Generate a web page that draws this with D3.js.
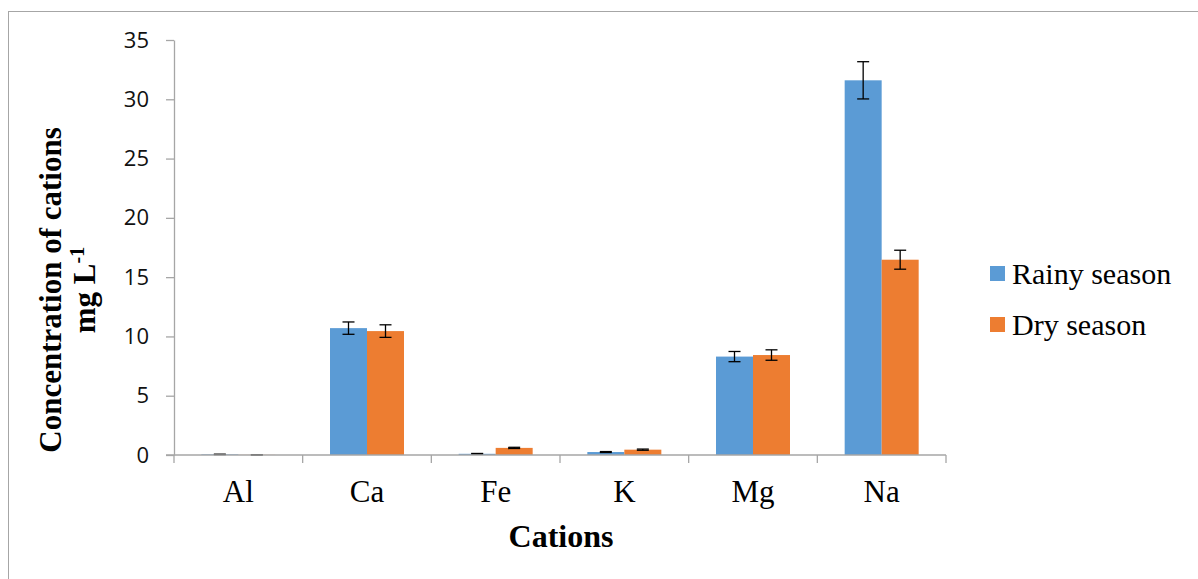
<!DOCTYPE html>
<html>
<head>
<meta charset="utf-8">
<script src="https://cdn.jsdelivr.net/npm/d3@7"></script>
<style>
  body { margin: 0; background: #fff; }
  svg { display: block; }
  .serif { font-family: "Liberation Serif", "Times New Roman", serif; }
</style>
</head>
<body>
<svg id="chart" width="1198" height="579"></svg>
<script>
// ── Data ─────────────────────────────────────────────────────────────────────

const cations = ["Al", "Ca", "Fe", "K", "Mg", "Na"];
const seriesNames = ["Rainy season", "Dry season"];
const rainy = [0.05, 10.7, 0.1, 0.25, 8.3, 31.6];
const rainyErr = [0.02, 0.52, 0.03, 0.04, 0.43, 1.57];
const dry = [0.01, 10.45, 0.6, 0.45, 8.43, 16.47];
const dryErr = [0.005, 0.53, 0.05, 0.05, 0.44, 0.8];
const yTicks = [0, 5, 10, 15, 20, 25, 30, 35];

const colors = ["#5b9bd5", "#ed7d31"];

// ── Layout ───────────────────────────────────────────────────────────────────

const svg = d3.select("#chart");
const plot = { left: 174, right: 946, top: 40, bottom: 455 };

// outer chart border (top + left only visible)
svg.append("rect")
  .attr("x", 8.5).attr("y", 11.5)
  .attr("width", 1300).attr("height", 700)
  .attr("fill", "none").attr("stroke", "#a6a6a6").attr("stroke-width", 1);

const x = d3.scaleBand().domain(cations).range([plot.left, plot.right]);
const y = d3.scaleLinear().domain([0, 35]).range([plot.bottom, plot.top]);

const groupW = 74;
const xs = d3.scaleBand().domain([0, 1]).range([0, groupW]);

// ── Bars ─────────────────────────────────────────────────────────────────────

const rows = cations.map((c, i) => ({
  c,
  vals: [
    { s: 0, v: rainy[i], e: rainyErr[i] },
    { s: 1, v: dry[i], e: dryErr[i] },
  ],
}));

const groups = svg.append("g").selectAll("g")
  .data(rows)
  .join("g")
  .attr("transform", (d) => `translate(${x(d.c) + (x.bandwidth() - groupW) / 2},0)`);

groups.selectAll("rect")
  .data((d) => d.vals)
  .join("rect")
  .attr("x", (d) => xs(d.s))
  .attr("width", xs.bandwidth())
  .attr("y", (d) => y(d.v))
  .attr("height", (d) => y(0) - y(d.v))
  .attr("fill", (d) => colors[d.s]);

// ── Axes ─────────────────────────────────────────────────────────────────────

const axisColor = "#a6a6a6";

// y axis
const yAxis = svg.append("g")
  .attr("transform", `translate(${plot.left},0)`)
  .call(d3.axisLeft(y).tickValues(yTicks).tickSize(8).tickPadding(17).tickSizeOuter(0));
yAxis.attr("font-family", null);
yAxis.select(".domain").attr("stroke", axisColor).attr("stroke-width", 1.3);
yAxis.selectAll(".tick line").attr("stroke", axisColor).attr("stroke-width", 1.3);
yAxis.selectAll(".tick text")
  .style("font-family", "'Open Sans', 'Liberation Sans', sans-serif")
  .style("font-size", "22px")
  .attr("fill", "#111");

// x axis
const xAxis = svg.append("g")
  .attr("transform", `translate(0,${plot.bottom})`)
  .call(d3.axisBottom(x).tickSize(0).tickPadding(25));
xAxis.attr("font-family", null);
xAxis.select(".domain").remove();
xAxis.selectAll(".tick text")
  .attr("class", "serif")
  .style("font-size", "31px")
  .attr("fill", "#000");

svg.append("line")
  .attr("x1", plot.left - 8).attr("x2", plot.right)
  .attr("y1", plot.bottom).attr("y2", plot.bottom)
  .attr("stroke", axisColor).attr("stroke-width", 1.3);

const bounds = cations.map((c) => x(c)).concat([plot.right]);
svg.append("g").selectAll("line")
  .data(bounds)
  .join("line")
  .attr("x1", (d) => d).attr("x2", (d) => d)
  .attr("y1", plot.bottom).attr("y2", plot.bottom + 8)
  .attr("stroke", axisColor).attr("stroke-width", 1.3);

// ── Error bars ───────────────────────────────────────────────────────────────

const eb = groups.selectAll("g.err")
  .data((d) => d.vals)
  .join("g")
  .attr("class", "err")
  .attr("transform", (d) => `translate(${xs(d.s) + xs.bandwidth() / 2},0)`);

eb.append("line")
  .attr("y1", (d) => y(d.v + d.e)).attr("y2", (d) => y(Math.max(0, d.v - d.e)))
  .attr("stroke", "#000").attr("stroke-width", 1.3);
eb.selectAll("line.cap")
  .data((d) => [d.v + d.e, Math.max(0, d.v - d.e)])
  .join("line")
  .attr("class", "cap")
  .attr("x1", -6).attr("x2", 6)
  .attr("y1", (d) => y(d)).attr("y2", (d) => y(d))
  .attr("stroke", "#000").attr("stroke-width", 1.3);

// ── Titles ───────────────────────────────────────────────────────────────────

svg.append("text")
  .attr("class", "serif")
  .attr("x", 561).attr("y", 547)
  .attr("text-anchor", "middle")
  .style("font-weight", "bold")
  .style("font-size", "32px")
  .text("Cations");

const yt = svg.append("text")
  .attr("class", "serif")
  .attr("transform", "translate(61,290) rotate(-90)")
  .attr("text-anchor", "middle")
  .style("font-weight", "bold")
  .style("font-size", "31px");
yt.append("tspan").attr("x", 0).attr("y", 0).text("Concentration of cations");
const l2 = yt.append("tspan").attr("x", 0).attr("y", 34);
l2.append("tspan").text("mg L");
l2.append("tspan").attr("dy", -11).style("font-size", "20px").text("-1");

// ── Legend ───────────────────────────────────────────────────────────────────

const legend = svg.append("g").attr("transform", "translate(990,266)");
const li = legend.selectAll("g")
  .data(seriesNames)
  .join("g")
  .attr("transform", (d, i) => `translate(0,${i * 51})`);
li.append("rect").attr("width", 15).attr("height", 15).attr("fill", (d, i) => colors[i]);
li.append("text")
  .attr("class", "serif")
  .attr("x", 22).attr("y", 18)
  .style("font-size", "30px")
  .text((d) => d);
</script>
</body>
</html>
